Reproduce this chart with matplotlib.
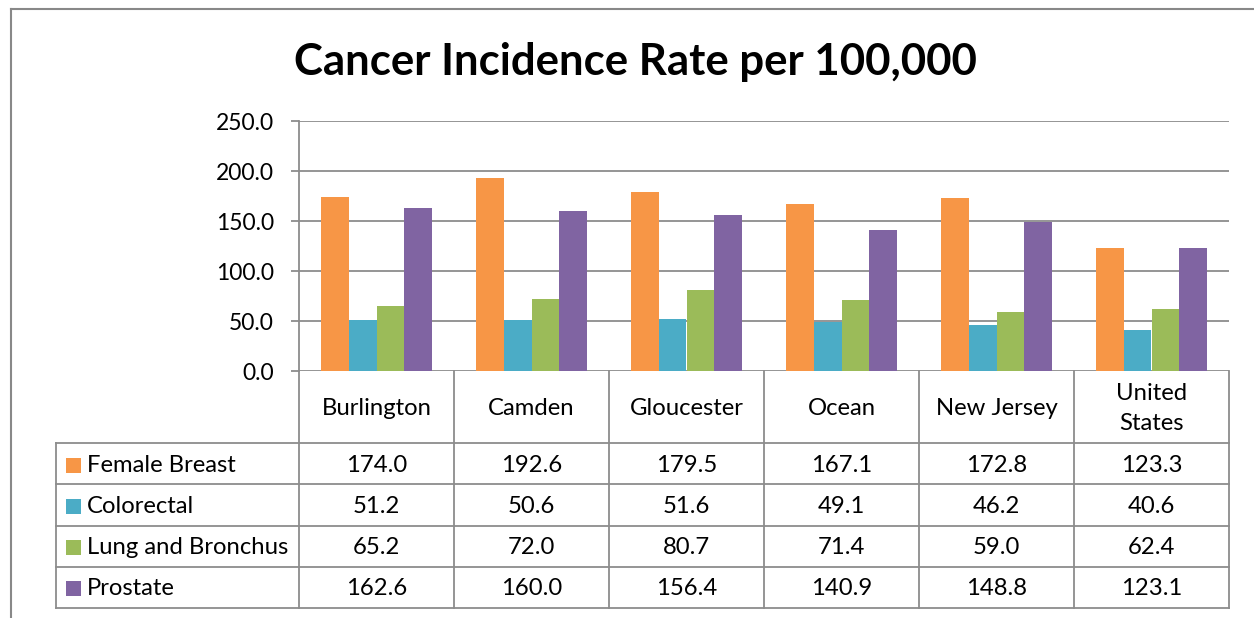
import matplotlib
matplotlib.use("Agg")
import matplotlib.pyplot as plt
from matplotlib.lines import Line2D
from matplotlib.patches import Rectangle
import numpy as np

categories = ["Burlington", "Camden", "Gloucester", "Ocean", "New Jersey", "United\nStates"]
series_names = ["Female Breast", "Colorectal", "Lung and Bronchus", "Prostate"]
female_breast = [174.0, 192.6, 179.5, 167.1, 172.8, 123.3]
colorectal = [51.2, 50.6, 51.6, 49.1, 46.2, 40.6]
lung_bronchus = [65.2, 72.0, 80.7, 71.4, 59.0, 62.4]
prostate = [162.6, 160.0, 156.4, 140.9, 148.8, 123.1]
yticks = [0, 50, 100, 150, 200, 250]
colors = ["#F79646", "#4BACC6", "#9BBB59", "#8064A2"]

series = [female_breast, colorectal, lung_bronchus, prostate]

W, H = 1254, 618
plt.rcParams['font.family'] = ['Lato', 'DejaVu Sans']
fig = plt.figure(figsize=(W / 100, H / 100), dpi=100)
fig.patch.set_facecolor("white")

def fx(px):
    return px / W

def fy(py):
    return 1 - py / H

L, R, T, B = 299, 1229, 121, 371
ax = fig.add_axes([fx(L), fy(B), (R - L) / W, (B - T) / H])

n = len(categories)
x = np.arange(n)
bw = 0.18
for i, (vals, c) in enumerate(zip(series, colors)):
    ax.bar(x + (i - 1.5) * bw, vals, width=bw, color=c, zorder=3)

ax.set_xlim(-0.5, n - 0.5)
ax.set_ylim(0, 250)
ax.set_yticks(yticks)
ax.set_yticklabels([f"{v:.1f}" for v in yticks], fontsize=16.5)
ax.set_xticks([])
ax.yaxis.grid(True, color="#8C8C8C", linewidth=1.3, zorder=0)
for s in ["top", "right", "bottom"]:
    ax.spines[s].set_visible(False)
ax.spines["left"].set_color("#8C8C8C")
ax.spines["left"].set_linewidth(1.3)
ax.tick_params(axis="y", length=6, color="#8C8C8C", width=1.3, pad=12)

gcol = "#8C8C8C"
def hline(y, x0, x1, lw=1.3, c=gcol):
    fig.add_artist(Line2D([fx(x0), fx(x1)], [fy(y), fy(y)], color=c, lw=lw))

def vline(xp, y0, y1, lw=1.3, c=gcol):
    fig.add_artist(Line2D([fx(xp), fx(xp)], [fy(y0), fy(y1)], color=c, lw=lw))

# outer chart border
vline(11, 9, H + 5, lw=1.5, c="#888888")
hline(9, 11, W + 5, lw=1.5, c="#888888")

# data table
colw = (R - L) / n
row_top = B
cat_bottom = 443
row_h = (608 - 443) / 4
tab_left = 56
tab_bottom = 608

for j in range(n + 1):
    vline(L + j * colw, row_top, tab_bottom)
vline(tab_left, cat_bottom, tab_bottom)
hline(cat_bottom, tab_left, R)
for k in range(1, 5):
    hline(cat_bottom + k * row_h, tab_left, R)

fs = 17.2
for j, cat in enumerate(categories):
    fig.text(fx(L + (j + 0.5) * colw), fy((row_top + cat_bottom) / 2 + 1.5), cat,
             ha="center", va="center", fontsize=fs, linespacing=1.5)

for k, (name, vals, c) in enumerate(zip(series_names, series, colors)):
    yc = cat_bottom + (k + 0.5) * row_h + 1.5
    fig.add_artist(Rectangle((fx(66), fy(yc + 7.5)), 15 / W, 15 / H,
                             transform=fig.transFigure, color=c, lw=0))
    fig.text(fx(87), fy(yc), name, ha="left", va="center", fontsize=fs)
    for j, v in enumerate(vals):
        fig.text(fx(L + (j + 0.5) * colw), fy(yc), f"{v:.1f}",
                 ha="center", va="center", fontsize=fs)

fig.text(fx(635), fy(62), "Cancer Incidence Rate per 100,000",
         ha="center", va="center", fontsize=31.5, fontweight="bold")

fig.savefig("out.png", dpi=100, facecolor="white")
